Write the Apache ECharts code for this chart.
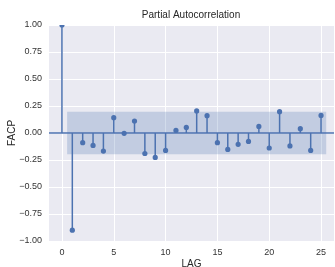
<!DOCTYPE html>
<html>
<head>
<meta charset="utf-8">
<script src="https://cdn.jsdelivr.net/npm/echarts@6/dist/echarts.min.js"></script>
<style>
  html, body { margin: 0; padding: 0; background: #ffffff; }
  #main { width: 335px; height: 267px; }
</style>
</head>
<body>
<div id="main"></div>
<script>
// lags and partial autocorrelation values
var lags = [0, 1, 2, 3, 4, 5, 6, 7, 8, 9, 10, 11, 12, 13, 14, 15, 16, 17, 18, 19, 20, 21, 22, 23, 24, 25];
var pacfValues = [1.00, -0.90, -0.09, -0.115, -0.167, 0.142, -0.003, 0.111, -0.19, -0.226, -0.161, 0.024, 0.052, 0.204,
                  0.160, -0.09, -0.152, -0.105, -0.078, 0.061, -0.139, 0.197, -0.12, 0.04, -0.161, 0.163];
var xTicks = [0, 5, 10, 15, 20, 25];
// 95% confidence band (1.96 / sqrt(n))
var confLimit = 0.196;
var bandFrom = 0.5;
var bandTo = 25.5;

var blue = '#4C72B0';
var textColor = '#333333';
var font = '"Liberation Sans", Arial, sans-serif';

var points = [];
for (var i = 0; i < lags.length; i++) {
    points.push([lags[i], pacfValues[i]]);
}

var myChart = echarts.init(document.getElementById('main'), null, { renderer: 'canvas' });

myChart.setOption({
    backgroundColor: '#ffffff',
    animation: false,
    title: {
        text: 'Partial Autocorrelation',
        left: 191,
        textAlign: 'center',
        top: 10,
        padding: 0,
        textStyle: {
            fontFamily: font,
            fontSize: 10,
            fontWeight: 'normal',
            color: '#262626'
        }
    },
    grid: {
        left: 49,
        right: 1,
        top: 25,
        bottom: 26,
        outerBoundsMode: 'none',
        containLabel: false,
        show: true,
        backgroundColor: '#EAEAF2',
        borderWidth: 0
    },
    xAxis: {
        type: 'value',
        min: -1.25,
        max: 26.25,
        name: 'LAG',
        nameLocation: 'middle',
        nameGap: 18,
        nameMoveOverlap: false,
        nameTextStyle: { fontFamily: font, fontSize: 10, color: '#262626' },
        axisLine: { show: false },
        axisTick: { show: false, customValues: xTicks },
        axisLabel: {
            customValues: xTicks,
            margin: 7,
            fontFamily: font,
            fontSize: 9,
            color: textColor
        },
        splitLine: { show: true, lineStyle: { color: '#ffffff', width: 1 } }
    },
    yAxis: {
        type: 'value',
        min: -1,
        max: 1,
        interval: 0.25,
        name: 'FACP',
        nameLocation: 'middle',
        nameGap: 32,
        nameMoveOverlap: false,
        nameTextStyle: { fontFamily: font, fontSize: 10, color: '#262626' },
        axisLine: { show: false },
        axisTick: { show: false },
        axisLabel: {
            margin: 7,
            fontFamily: font,
            fontSize: 9,
            color: textColor,
            formatter: function (v) {
                var s = Math.abs(v).toFixed(2);
                return v < 0 ? '\u2212' + s : s;
            }
        },
        splitLine: { show: true, lineStyle: { color: '#ffffff', width: 1 } }
    },
    series: [
        {
            // confidence band + zero line
            type: 'line',
            data: [],
            silent: true,
            markArea: {
                silent: true,
                itemStyle: { color: 'rgba(76,114,176,0.25)' },
                data: [[{ coord: [bandFrom, -confLimit] }, { coord: [bandTo, confLimit] }]]
            },
            markLine: {
                silent: true,
                symbol: 'none',
                label: { show: false },
                lineStyle: { color: blue, width: 1.5, type: 'solid' },
                data: [{ yAxis: 0 }]
            }
        },
        {
            // stems and markers
            type: 'custom',
            clip: true,
            data: points,
            renderItem: function (params, api) {
                var base = api.coord([api.value(0), 0]);
                var top = api.coord([api.value(0), api.value(1)]);
                return {
                    type: 'group',
                    children: [
                        {
                            type: 'line',
                            shape: { x1: base[0], y1: base[1], x2: top[0], y2: top[1] },
                            style: { stroke: blue, lineWidth: 1.5 }
                        },
                        {
                            type: 'circle',
                            shape: { cx: top[0], cy: top[1], r: 2.6 },
                            style: { fill: blue }
                        }
                    ]
                };
            }
        }
    ]
});
</script>
</body>
</html>
